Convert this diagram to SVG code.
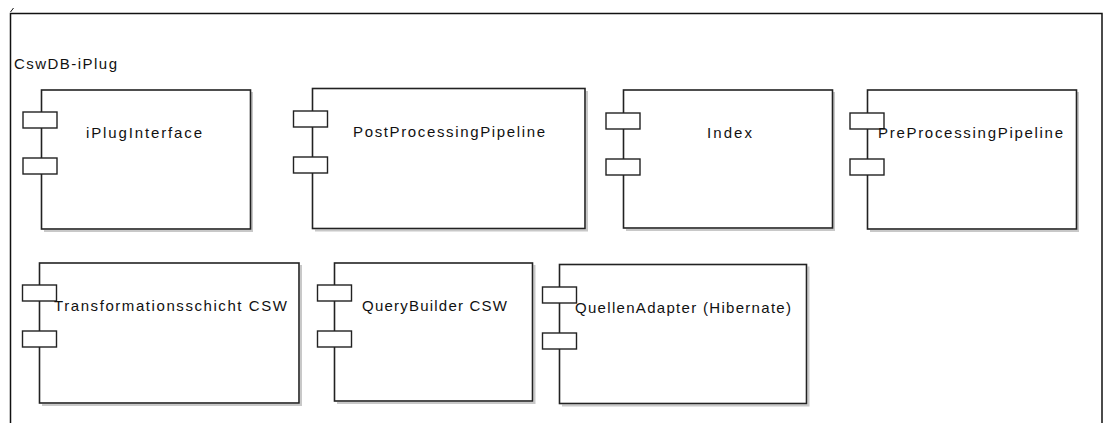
<svg xmlns="http://www.w3.org/2000/svg" width="1103" height="423" viewBox="0 0 1103 423">
<defs>
<style>
.frame{fill:none;stroke:#111;stroke-width:1.5}
.box{fill:#fff;stroke:#222;stroke-width:1.6}
.shadow{fill:none;stroke:#c8c8c8;stroke-width:2}
.port{fill:#fff;stroke:#222;stroke-width:1.4}
.lbl{font-family:"Liberation Sans",Arial,sans-serif;font-size:15px;fill:#111}
</style>
</defs>
<rect width="1103" height="423" fill="#fff"/>
<g id="frame">
<path class="frame" d="M10.5,430 V13.5 H1102 V430"/>
<path d="M10.5,12 L13.5,8" stroke="#111" stroke-width="1" fill="none"/>
<text class="lbl" x="14" y="69" textLength="103" lengthAdjust="spacing">CswDB-iPlug</text>
</g>
<g id="iPlugInterface">
<path class="shadow" d="M252,92 V231 H44"/>
<rect class="box" x="41.5" y="90" width="209" height="139"/>
<rect class="port" x="23" y="112" width="34" height="16"/>
<rect class="port" x="23" y="158" width="34" height="16"/>
<text class="lbl" x="86" y="138" textLength="116" lengthAdjust="spacing">iPlugInterface</text>
</g>
<g id="PostProcessingPipeline">
<path class="shadow" d="M587,91 V230.5 H315"/>
<rect class="box" x="312.5" y="88.5" width="272.5" height="140"/>
<rect class="port" x="293.5" y="111" width="34" height="16"/>
<rect class="port" x="293.5" y="157" width="34" height="16"/>
<text class="lbl" x="353" y="137" textLength="192" lengthAdjust="spacing">PostProcessingPipeline</text>
</g>
<g id="Index">
<path class="shadow" d="M834,92 V230 H626"/>
<rect class="box" x="623.5" y="90" width="209" height="138"/>
<rect class="port" x="606" y="113" width="34" height="16"/>
<rect class="port" x="606" y="159" width="34" height="16"/>
<text class="lbl" x="707" y="138" textLength="45" lengthAdjust="spacing">Index</text>
</g>
<g id="PreProcessingPipeline">
<path class="shadow" d="M1078,92 V231 H870"/>
<rect class="box" x="867.5" y="90" width="209" height="139"/>
<rect class="port" x="850" y="113" width="34" height="16"/>
<rect class="port" x="850" y="159" width="34" height="16"/>
<text class="lbl" x="878" y="138" textLength="185" lengthAdjust="spacing">PreProcessingPipeline</text>
</g>
<g id="TransformationsschichtCSW">
<path class="shadow" d="M301,265 V405 H42"/>
<rect class="box" x="39.5" y="263" width="259.5" height="140"/>
<rect class="port" x="22.5" y="285" width="34" height="16"/>
<rect class="port" x="22.5" y="331" width="34" height="16"/>
<text class="lbl" x="54" y="311" textLength="233" lengthAdjust="spacing">Transformationsschicht CSW</text>
</g>
<g id="QueryBuilderCSW">
<path class="shadow" d="M534.5,265 V403 H337"/>
<rect class="box" x="334.5" y="263" width="198" height="138"/>
<rect class="port" x="317.5" y="285" width="34" height="16"/>
<rect class="port" x="317.5" y="331" width="34" height="16"/>
<text class="lbl" x="362" y="311" textLength="145" lengthAdjust="spacing">QueryBuilder CSW</text>
</g>
<g id="QuellenAdapter">
<path class="shadow" d="M808.5,266.5 V405.5 H562"/>
<rect class="box" x="559.5" y="264.5" width="247" height="139"/>
<rect class="port" x="542.5" y="287" width="34" height="16"/>
<rect class="port" x="542.5" y="333" width="34" height="16"/>
<text class="lbl" x="575" y="313" textLength="216" lengthAdjust="spacing">QuellenAdapter (Hibernate)</text>
</g>
<g id="connectors"></g>
</svg>
